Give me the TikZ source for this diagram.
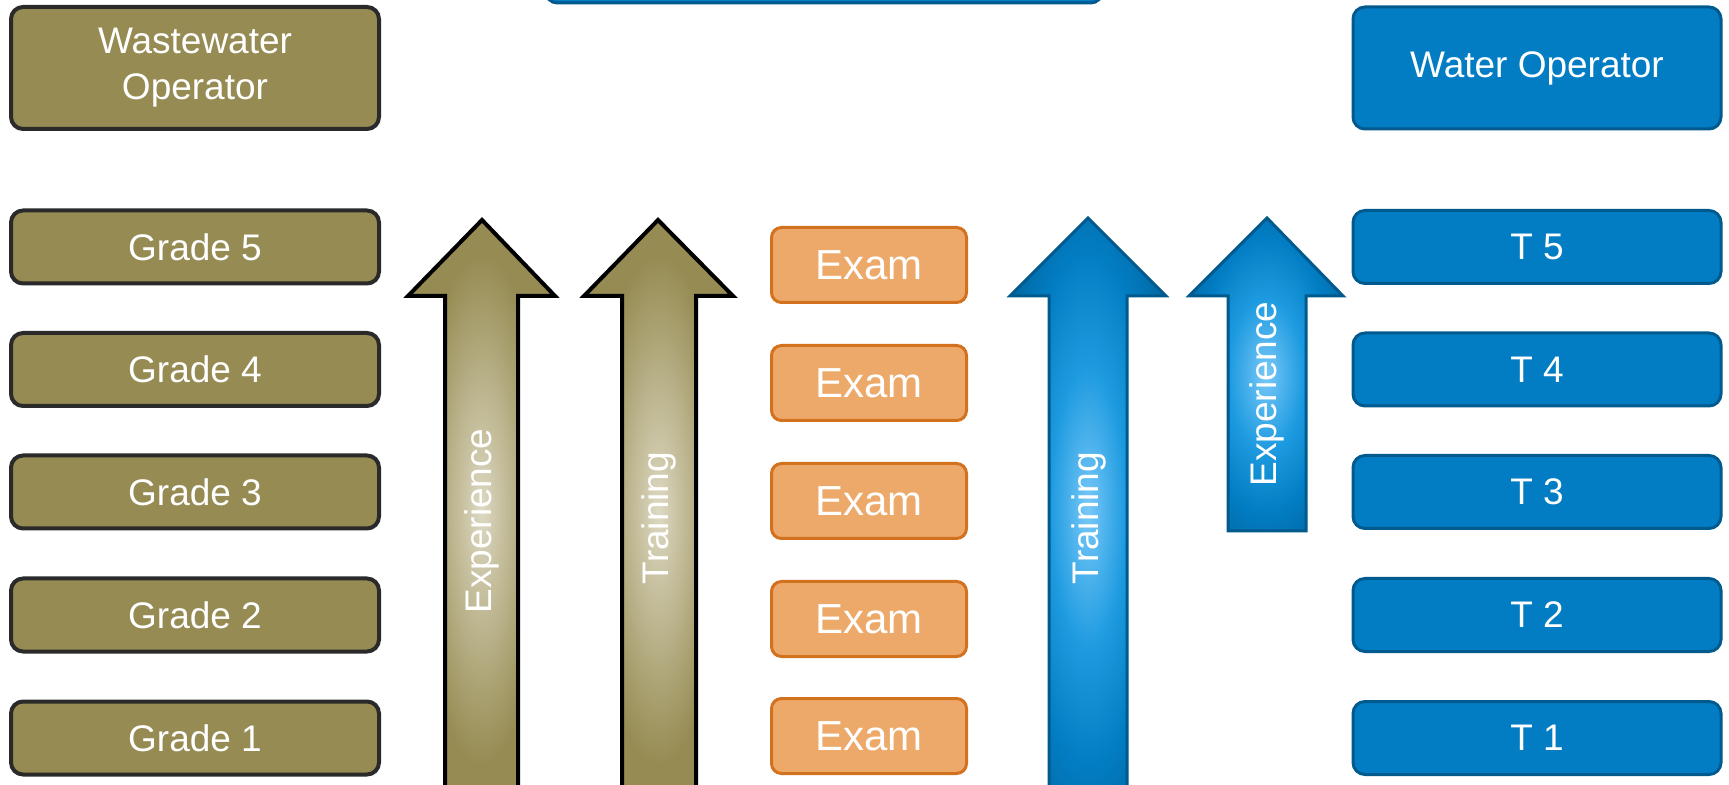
\documentclass[tikz,border=0pt]{standalone}
\usepackage{fontspec}
\setmainfont{Liberation Sans}
\usepackage{xcolor}

\definecolor{olivefill}{HTML}{968B52}
\definecolor{olivelight}{HTML}{DDD9C3}
\definecolor{boxline}{HTML}{2A2A2A}
\definecolor{bluefill}{HTML}{027DC3}
\definecolor{blueline}{HTML}{005A8E}
\definecolor{bluelight}{HTML}{78C8F8}
\definecolor{bluemid}{HTML}{1E9BE0}
\definecolor{examfill}{HTML}{EDA96A}
\definecolor{examline}{HTML}{D2711E}

\pgfdeclareradialshading{oliveglow}{\pgfpoint{0bp}{0bp}}{%
  color(0bp)=(olivelight); color(22bp)=(olivefill); color(50bp)=(olivefill)}
\pgfdeclareradialshading{blueglow}{\pgfpoint{0bp}{0bp}}{%
  color(0bp)=(bluelight); color(12bp)=(bluemid); color(22bp)=(bluefill);
  color(36bp)=(blueline); color(50bp)=(blueline)}

\tikzset{
  wwbox/.style={draw=boxline, fill=olivefill, line width=2pt, rounded corners=6pt,
    minimum width=184pt, minimum height=36.5pt, inner sep=0pt, text=white,
    font=\fontsize{18.5}{23}\selectfont, align=center},
  wbox/.style={draw=blueline, fill=bluefill, line width=1.5pt, rounded corners=6pt,
    minimum width=184pt, minimum height=36.5pt, inner sep=0pt, text=white,
    font=\fontsize{18.5}{23}\selectfont, align=center},
  exambox/.style={draw=examline, fill=examfill, line width=1.5pt, rounded corners=5pt,
    minimum width=97.5pt, minimum height=37.5pt, inner sep=0pt, text=white,
    font=\fontsize{21}{25}\selectfont},
  arrowlabel/.style={rotate=90, text=white, inner sep=0pt,
    font=\fontsize{18.5}{21.5}\selectfont},
  olivearrow/.style={draw=black, line width=2pt, shading=oliveglow},
  bluearrow/.style={draw=blueline, line width=1.5pt, shading=blueglow}
}

\begin{document}
\begin{tikzpicture}[x=0.5pt, y=-0.5pt]
  \useasboundingbox (0,0) rectangle (1729,785);
  \clip (0,0) rectangle (1729,785);

  % Top box (cut off)
  \node[wbox, minimum width=278.5pt, minimum height=43pt] (top) at (824,-40) {};

  % Wastewater column
  \node[wwbox, minimum height=61pt] (ww) at (195,68) {Wastewater\\Operator};
  \node[wwbox] (grade5) at (195,247) {Grade 5};
  \node[wwbox] (grade4) at (195,369.5) {Grade 4};
  \node[wwbox] (grade3) at (195,492) {Grade 3};
  \node[wwbox] (grade2) at (195,615) {Grade 2};
  \node[wwbox] (grade1) at (195,738) {Grade 1};

  % Water column
  \node[wbox, minimum height=61pt] (w) at (1537,68) {Water Operator};
  \node[wbox] (t5) at (1537,247) {T 5};
  \node[wbox] (t4) at (1537,369.5) {T 4};
  \node[wbox] (t3) at (1537,492) {T 3};
  \node[wbox] (t2) at (1537,615) {T 2};
  \node[wbox] (t1) at (1537,738) {T 1};

  % Exams
  \node[exambox] (exam5) at (869,265) {Exam};
  \node[exambox] (exam4) at (869,383) {Exam};
  \node[exambox] (exam3) at (869,501) {Exam};
  \node[exambox] (exam2) at (869,619) {Exam};
  \node[exambox] (exam1) at (869,736) {Exam};

  % Wastewater arrows
  \path[olivearrow] (482,220) -- (555,296) -- (518,296) -- (518,800)
    -- (445,800) -- (445,296) -- (408,296) -- cycle;
  \path[olivearrow] (658,220) -- (733,296) -- (696,296) -- (696,800)
    -- (622,800) -- (622,296) -- (584,296) -- cycle;
  \node[arrowlabel] (wwexp) at (482,521) {Experience};
  \node[arrowlabel] (wwtrain) at (659,518) {Training};

  % Water arrows
  \path[bluearrow] (1088,218) -- (1166,296) -- (1127,296) -- (1127,800)
    -- (1049,800) -- (1049,296) -- (1010,296) -- cycle;
  \path[bluearrow] (1267,218) -- (1343,296) -- (1306,296) -- (1306,531)
    -- (1228,531) -- (1228,296) -- (1189,296) -- cycle;
  \node[arrowlabel] (wtrain) at (1089,518) {Training};
  \node[arrowlabel] (wexp) at (1267,394) {Experience};
\end{tikzpicture}
\end{document}
